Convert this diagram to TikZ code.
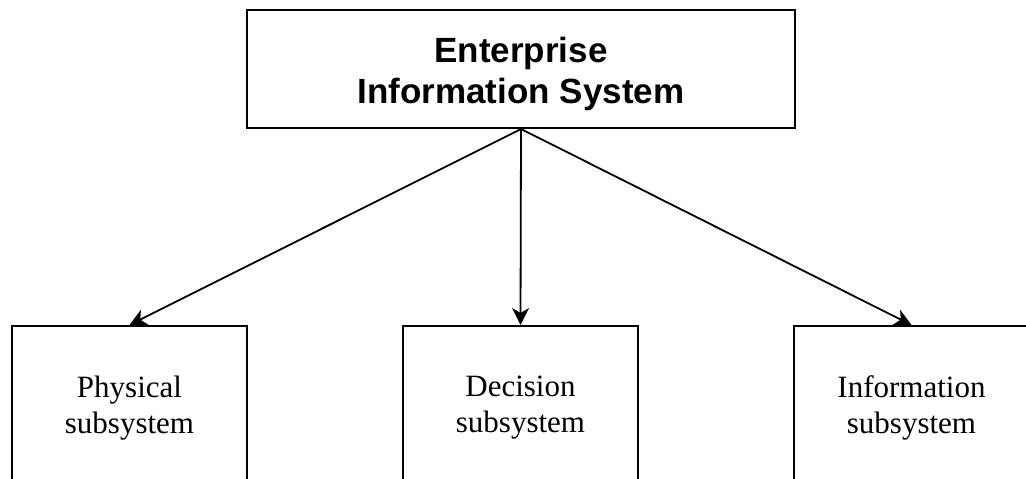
\documentclass[tikz,border=0pt]{standalone}
\usepackage{fontspec}
\setmainfont{Liberation Serif}
\newfontfamily\headfont{Liberation Sans}
\usetikzlibrary{arrows.meta, positioning}

\tikzset{
  mainbox/.style={draw, line width=2pt, minimum width=548pt, minimum height=118pt,
    align=center, font=\headfont\bfseries\fontsize{35}{41}\selectfont},
  subbox/.style={draw, line width=2pt, minimum width=235pt, minimum height=164pt,
    align=center, font=\fontsize{31}{36}\selectfont},
  link/.style={-{Stealth[length=17pt, width=17pt, inset=5pt]}, line width=1.8pt}
}

\begin{document}
\begin{tikzpicture}[x=1pt, y=-1pt]
        \useasboundingbox (0,0) rectangle (1026,479);
        \clip (0,0) rectangle (1026,479);
        % Top box
        \node[mainbox] (eis) at (521, 69) {\rule{0pt}{36pt}Enterprise\\Information System};
        % Subsystems
        \node[subbox] (phys) at (129.5, 408) {Physical\\subsystem};
        \node[subbox] (dec) at (520.5, 408) {Decision\\subsystem};
        \node[subbox] (info) at (911.5, 408) {Information\\subsystem};
        % Links
        \draw[link] (eis.south) -- (phys.north);
        \draw[link] (eis.south) -- (dec.north);
        \draw[link] (eis.south) -- (info.north);
      \end{tikzpicture}
\end{document}
